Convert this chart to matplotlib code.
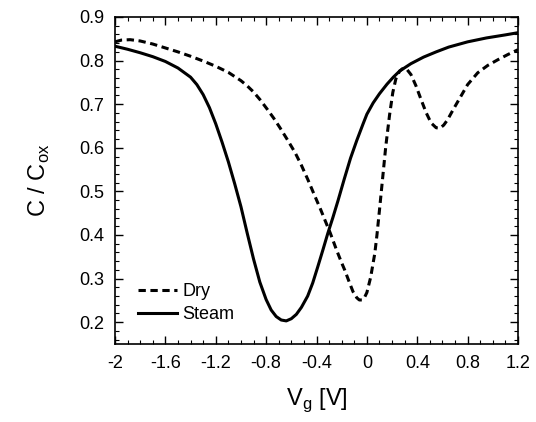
import matplotlib
matplotlib.use("Agg")
import matplotlib.pyplot as plt
from matplotlib.ticker import MultipleLocator

plt.rcParams['font.family'] = ['Liberation Sans', 'DejaVu Sans']

# Steam (solid)
steam_v = [-2.0, -1.9, -1.8, -1.7, -1.6, -1.5, -1.4, -1.35, -1.3, -1.25, -1.2, -1.15,
           -1.1, -1.05, -1.0, -0.95, -0.9, -0.85, -0.8, -0.76, -0.72, -0.68, -0.64, -0.6,
           -0.56, -0.52, -0.47, -0.43, -0.39, -0.35, -0.31, -0.27, -0.23, -0.18, -0.13,
           -0.08, -0.03, 0.0, 0.05, 0.1, 0.16, 0.21, 0.26, 0.35, 0.45, 0.55, 0.65, 0.8,
           0.95, 1.1, 1.2]
steam_c = [0.833, 0.826, 0.818, 0.809, 0.798, 0.783, 0.762, 0.745, 0.722, 0.692, 0.655, 0.613,
           0.568, 0.518, 0.465, 0.404, 0.345, 0.292, 0.252, 0.228, 0.213, 0.205, 0.203, 0.208,
           0.218, 0.234, 0.26, 0.29, 0.327, 0.365, 0.404, 0.44, 0.478, 0.528, 0.576,
           0.617, 0.655, 0.677, 0.703, 0.724, 0.746, 0.762, 0.776, 0.793, 0.808, 0.82, 0.831, 0.843,
           0.852, 0.859, 0.864]

# Dry (dashed)
dry_v = [-2.0, -1.95, -1.88, -1.8, -1.7, -1.6, -1.5, -1.4, -1.3, -1.2, -1.1, -1.0,
         -0.95, -0.9, -0.85, -0.79, -0.74, -0.69, -0.63, -0.57, -0.52, -0.47, -0.42, -0.365,
         -0.33, -0.29, -0.24, -0.2, -0.175, -0.14, -0.11, -0.08, -0.06, -0.04, -0.02, 0.0,
         0.03, 0.063, 0.08, 0.1, 0.125, 0.15, 0.18, 0.206, 0.23, 0.26, 0.29, 0.32, 0.35,
         0.39, 0.43, 0.47, 0.51, 0.55, 0.58, 0.61, 0.64, 0.69, 0.746, 0.8, 0.88, 0.96,
         1.04, 1.12, 1.2]
dry_c = [0.843, 0.847, 0.848, 0.845, 0.838, 0.829, 0.82, 0.81, 0.799, 0.787, 0.773, 0.754,
         0.742, 0.728, 0.711, 0.688, 0.668, 0.646, 0.618, 0.589, 0.560, 0.528, 0.494, 0.457,
         0.432, 0.404, 0.365, 0.336, 0.319, 0.292, 0.27, 0.256, 0.251, 0.251, 0.256, 0.268,
         0.303, 0.358, 0.40, 0.457, 0.53, 0.603, 0.675, 0.727, 0.758, 0.776, 0.783, 0.779, 0.768,
         0.742, 0.711, 0.681, 0.657, 0.646, 0.645, 0.652, 0.664, 0.69, 0.718, 0.745, 0.772, 0.789,
         0.802, 0.814, 0.825]

fig = plt.figure(figsize=(5.36, 4.22), dpi=100)
ax = fig.add_axes([115/536, 1-344/422, 403/536, 327/422])

ax.plot(dry_v, dry_c, color='black', lw=2.2, ls=(0, (2.4, 1.5)), label='Dry')
ax.plot(steam_v, steam_c, color='black', lw=2.2, label='Steam',
        solid_joinstyle='round')

ax.set_xlim(-2, 1.2)
ax.set_ylim(0.15, 0.9)
ax.xaxis.set_minor_locator(MultipleLocator(0.1))
ax.yaxis.set_major_locator(MultipleLocator(0.1))
ax.yaxis.set_minor_locator(MultipleLocator(0.02))
ax.set_xticks([-2, -1.6, -1.2, -0.8, -0.4, 0, 0.4, 0.8, 1.2])
ax.set_xticklabels(['-2', '-1.6', '-1.2', '-0.8', '-0.4', '0', '0.4', '0.8', '1.2'])
ax.tick_params(which='both', direction='in', top=True, right=True, labelsize=13, pad=8)
ax.tick_params(which='major', length=6, width=1)
ax.tick_params(which='minor', length=3, width=0.8)
for s in ax.spines.values():
    s.set_linewidth(1.2)

ax.set_xlabel('V$_\\mathregular{g}$ [V]', fontsize=17, labelpad=10)
ax.set_ylabel('C / C$_\\mathregular{ox}$', fontsize=17, labelpad=19)

ax.legend(loc='lower left', frameon=False, fontsize=13, handlelength=2.15,
          handletextpad=0.3, labelspacing=0.33, borderaxespad=0.2,
          bbox_to_anchor=(0.03, 0.03))

fig.savefig('out.png', dpi=100)
